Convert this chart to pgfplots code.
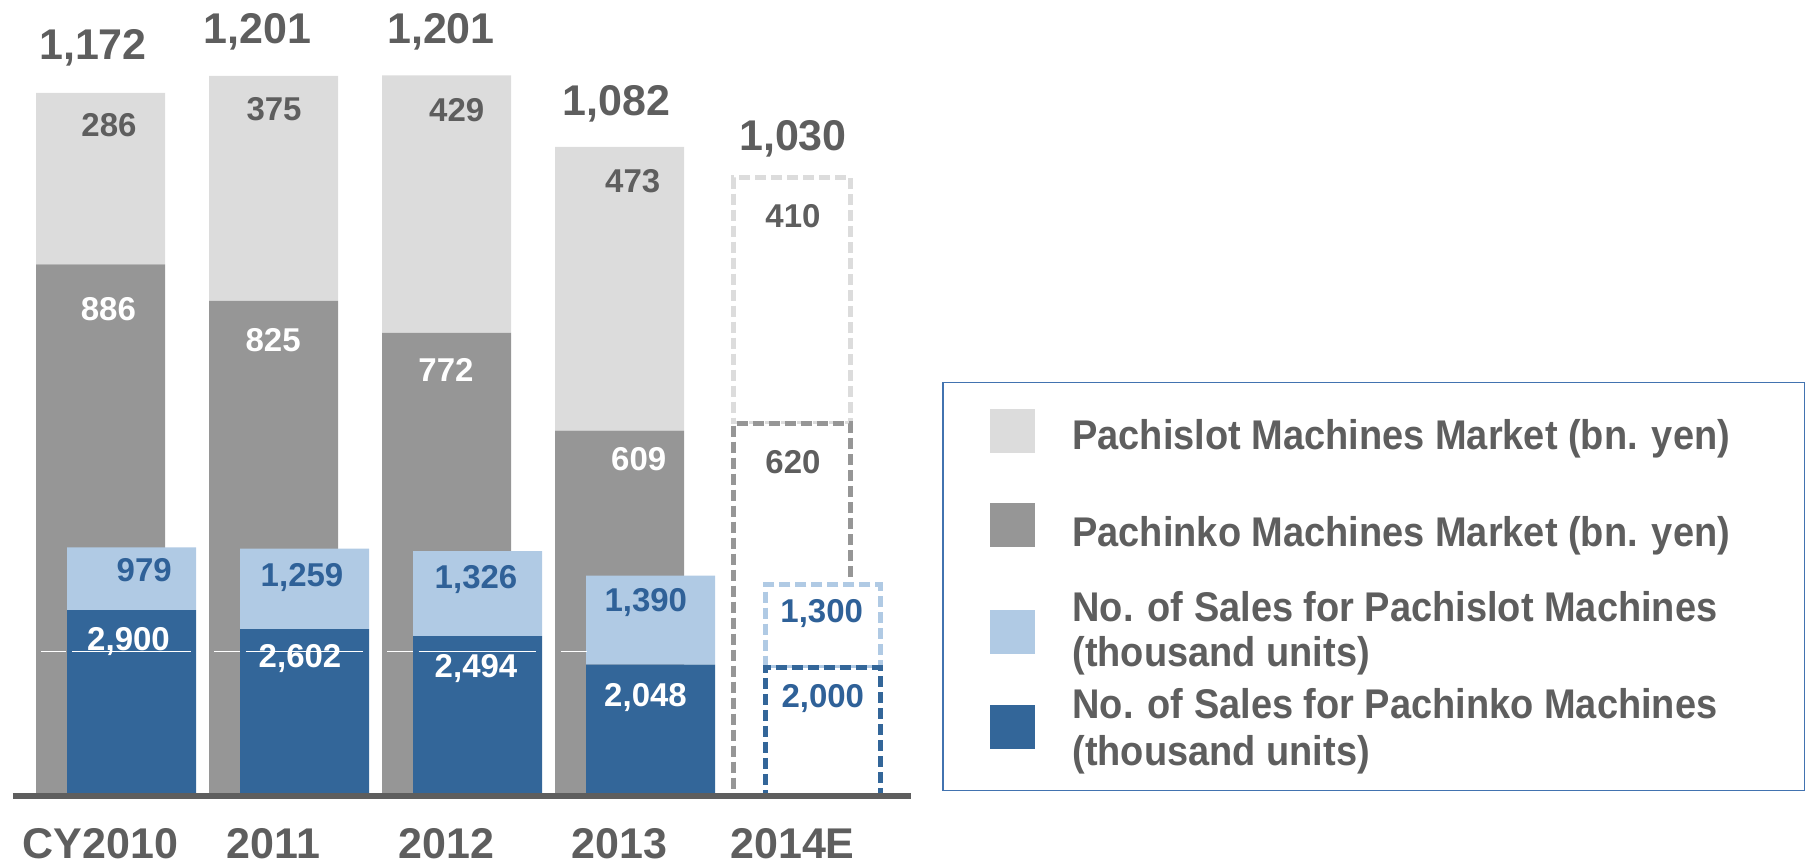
\documentclass[border=0pt]{standalone}
\usepackage{fontspec}
\setmainfont{Liberation Sans}
\newfontfamily\legfont[FakeStretch=0.915]{Liberation Sans}
\usepackage{pgfplots}
\usepackage{pgfplotstable}
\pgfplotsset{compat=1.18}

\definecolor{psgrey}{HTML}{DCDCDC}
\definecolor{pkgrey}{HTML}{969696}
\definecolor{lblue}{HTML}{B0CAE4}
\definecolor{dblue}{HTML}{336699}
\definecolor{txtgrey}{HTML}{5E5E5E}
\definecolor{bluetxt}{HTML}{2F6198}
\definecolor{axisgrey}{HTML}{5E5E5E}
\definecolor{legendblue}{HTML}{4273B0}

% market (bn. yen)
\pgfplotstableread{
x pachinko pachislot
0 886 286
1 825 375
2 772 429
3 609 473
}\yensolid
\pgfplotstableread{
x pachinko pachislot
4 620 410
}\yenest
% sales (thousand units)
\pgfplotstableread{
x pachinko pachislot
0 2900 979
1 2602 1259
2 2494 1326
3 2048 1390
}\unitsolid
\pgfplotstableread{
x pachinko pachislot
4 2000 1300
}\unitest

% label positions
\pgfplotstableread{
x y label
-0.0434 1227.8 1,172
0.9075 1254.5 1,201
1.9682 1254.5 1,201
2.9827 1133.7 1,082
4.0029 1076.2 1,030
}\totallabels
\pgfplotstableread{
x y label
0.0491 1098.8 286
1.0029 1125.5 375
2.0590 1123.8 429
3.0763 1006.0 473
4.0029 948.3 410
4.0029 537.3 620
}\greylabels
\pgfplotstableread{
x y label
0.0451 792.8 886
0.9977 740.8 825
1.9971 690.8 772
3.1110 542.2 609
}\whitelabels
\pgfplotstableread{
x y label
0.2526 3343 979
1.1647 3265 1,259
2.1705 3231 1,326
3.1520 2875 1,390
4.1688 2710 1,300
4.1751 1379 2,000
}\bluelabels
\pgfplotstableread{
x y label
0.1618 2267 2,900
1.1532 1997 2,602
2.1705 1847 2,494
3.1503 1393 2,048
}\bluewhitelabels

\pgfplotsset{
  base/.style={scale only axis, width=449pt, height=398pt, at={(6.5pt,35pt)},
    anchor=south west, xmin=-0.506, xmax=4.685, ymin=0, clip=false},
  yen/.style={base, ymax=1326.67},
  units/.style={base, ymax=12418},
  lbl/.style n args={2}{only marks, mark=*, mark options={opacity=0},
    nodes near coords, point meta=explicit symbolic,
    nodes near coords style={anchor=base, inner sep=0pt, text=#1, font=#2, opacity=1}},
  est/.style={fill=white, dash pattern=on 5.5pt off 2.5pt, line width=2.5pt},
}

\begin{document}
\begin{tikzpicture}
% grey market bars
\begin{axis}[yen, hide axis, ybar stacked, bar width=64.5pt]
\addplot[fill=pkgrey, draw=none] table[x=x, y=pachinko] {\yensolid};
\addplot[fill=psgrey, draw=none] table[x=x, y=pachislot] {\yensolid};
\end{axis}
\begin{axis}[yen, hide axis, ybar stacked, bar width=58.6pt, bar shift=-0.4pt]
\addplot[est, draw=pkgrey] table[x=x, y=pachinko] {\yenest};
\addplot[est, draw=psgrey] table[x=x, y=pachislot] {\yenest};
\end{axis}
% blue unit bars
\begin{axis}[units, hide axis, ybar stacked, bar width=64.5pt, bar shift=15.5pt]
\addplot[fill=dblue, draw=none] table[x=x, y=pachinko] {\unitsolid};
\addplot[fill=lblue, draw=none] table[x=x, y=pachislot] {\unitsolid};
\end{axis}
\begin{axis}[units, hide axis, ybar stacked, bar width=57.4pt, bar shift=15.15pt]
\addplot[est, draw=dblue] table[x=x, y=pachinko] {\unitest};
\addplot[est, draw=lblue] table[x=x, y=pachislot] {\unitest};
\end{axis}
% blue labels
\begin{axis}[units, hide axis]
\addplot[lbl={bluetxt}{\bfseries\fontsize{16.5}{19}\selectfont}] table[x=x, y=y, meta=label] {\bluelabels};
\addplot[lbl={white}{\bfseries\fontsize{16.5}{19}\selectfont}] table[x=x, y=y, meta=label] {\bluewhitelabels};
\end{axis}
% grey labels, base line, categories
\begin{axis}[yen, axis x line*=bottom, axis y line=none, ytick=\empty,
  x axis line style={line width=3pt, draw=axisgrey, -},
  xtick={0,1,2,3,4}, xticklabels={CY2010,2011,2012,2013,2014E},
  major tick length=0pt, unbounded coords=jump,
  xticklabel style={anchor=base, yshift=-31.2pt, text=txtgrey,
    font=\bfseries\fontsize{21.5}{24}\selectfont}]
\addplot[white, line width=0.6pt] coordinates {(-0.344,241.2) (-0.199,241.2) (-0.18,nan)
  (-0.165,241.2) (0.521,241.2) (0.6,nan) (0.656,241.2) (0.806,241.2) (0.82,nan)
  (0.839,241.2) (1.519,241.2) (1.6,nan) (1.656,241.2) (1.806,241.2) (1.82,nan)
  (1.839,241.2) (2.519,241.2) (2.6,nan) (2.662,241.2) (2.810,241.2)};
\addplot[lbl={txtgrey}{\bfseries\fontsize{21.5}{24}\selectfont}] table[x=x, y=y, meta=label] {\totallabels};
\addplot[lbl={txtgrey}{\bfseries\fontsize{16.5}{19}\selectfont}] table[x=x, y=y, meta=label] {\greylabels};
\addplot[lbl={white}{\bfseries\fontsize{16.5}{19}\selectfont}] table[x=x, y=y, meta=label] {\whitelabels};
\end{axis}
% legend
\draw[legendblue, line width=0.75pt] (471.5pt,37.7pt) rectangle (902.3pt,241.75pt);
\fill[psgrey] (495pt,206.35pt) rectangle (517.5pt,228.35pt);
\fill[pkgrey] (495pt,159.25pt) rectangle (517.5pt,181.25pt);
\fill[lblue] (495pt,105.95pt) rectangle (517.5pt,127.95pt);
\fill[dblue] (495pt,58.4pt) rectangle (517.5pt,80.4pt);
\begin{scope}[every node/.style={anchor=base west, inner sep=0pt, text=txtgrey,
    font=\legfont\bfseries\fontsize{20.75}{24}\selectfont}]
\node at (536pt,208pt) {Pachislot Machines Market (bn. yen)};
\node at (536pt,159.85pt) {Pachinko Machines Market (bn. yen)};
\node at (536pt,122pt) {No. of Sales for Pachislot Machines};
\node at (536pt,99.5pt) {(thousand units)};
\node at (536pt,73.5pt) {No. of Sales for Pachinko Machines};
\node at (536pt,50pt) {(thousand units)};
\end{scope}
\pgfresetboundingbox
\path[use as bounding box] (0,0) rectangle (903.5pt,433pt);
\end{tikzpicture}
\end{document}
